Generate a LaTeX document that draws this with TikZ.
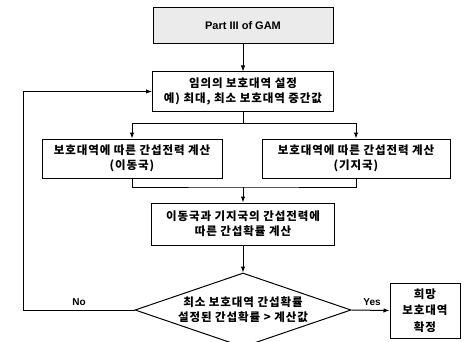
\documentclass[tikz,border=0pt]{standalone}
\usepackage{fontspec}
\usetikzlibrary{arrows.meta,shapes.geometric}
\newfontfamily\kr{Noto Sans CJK KR}[LetterSpace=8]
\newfontfamily\lat{Liberation Sans}
\begin{document}
\begin{tikzpicture}[x=1pt,y=-1pt,
  every node/.style={inner sep=0pt},
  box/.style={draw,line width=1pt,rectangle,align=center,
    font=\kr\bfseries\fontsize{11.5}{15}\selectfont},
  arr/.style={line width=1pt,-{Latex[length=6pt,width=4.5pt]}},
  ln/.style={line width=1pt},
  lbl/.style={font=\lat\bfseries\fontsize{10}{12}\selectfont}]
\useasboundingbox (0,0) rectangle (465,342);
\node[box,fill=black!8,minimum width=180pt,minimum height=36pt,
  font=\lat\bfseries\fontsize{11}{13}\selectfont] (top) at (243,26) {Part III of GAM};
\node[box,minimum width=181pt,minimum height=39pt] (b2) at (243,91.5)
  {임의의 보호대역 설정\\예) 최대, 최소 보호대역 중간값};
\node[box,minimum width=180pt,minimum height=39pt] (b3) at (132,158.5)
  {보호대역에 따른 간섭전력 계산\\(이동국)};
\node[box,minimum width=188pt,minimum height=39pt] (b4) at (356,158.5)
  {보호대역에 따른 간섭전력 계산\\(기지국)};
\node[box,minimum width=183pt,minimum height=42pt] (b5) at (243,224)
  {이동국과 기지국의 간섭전력에\\따른 간섭확률 계산};
\node[box,shape=diamond,aspect=3,minimum width=216pt,minimum height=74pt] (dia) at (243,310)
  {최소 보호대역 간섭확률\\설정된 간섭확률 > 계산값};
\node[box,minimum width=70pt,minimum height=55pt,font=\kr\bfseries\fontsize{11.5}{16.5}\selectfont] (yes) at (425,310.5)
  {희망\\보호대역\\확정};
\coordinate (fb) at (23,310);
\coordinate (br) at (243,123);
\coordinate (mg) at (243,187);
\draw[arr] (top) -- (b2);
\draw[ln] (b2.south) -- (br);
\draw[arr] (br) -| (b3.north);
\draw[arr] (br) -| (b4.north);
\draw[ln] (b3.south) |- (mg) -| (b4.south);
\draw[arr] (mg) -- (b5.north);
\draw[arr] (b5) -- (dia.north);
\draw[arr] (dia.east) -- (yes.west);
\draw[arr] (dia.west) -- (fb) |- (b2.west);
\node[lbl] (yeslbl) at (372,302) {Yes};
\node[lbl] (nolbl) at (79,302) {No};
\end{tikzpicture}
\end{document}
